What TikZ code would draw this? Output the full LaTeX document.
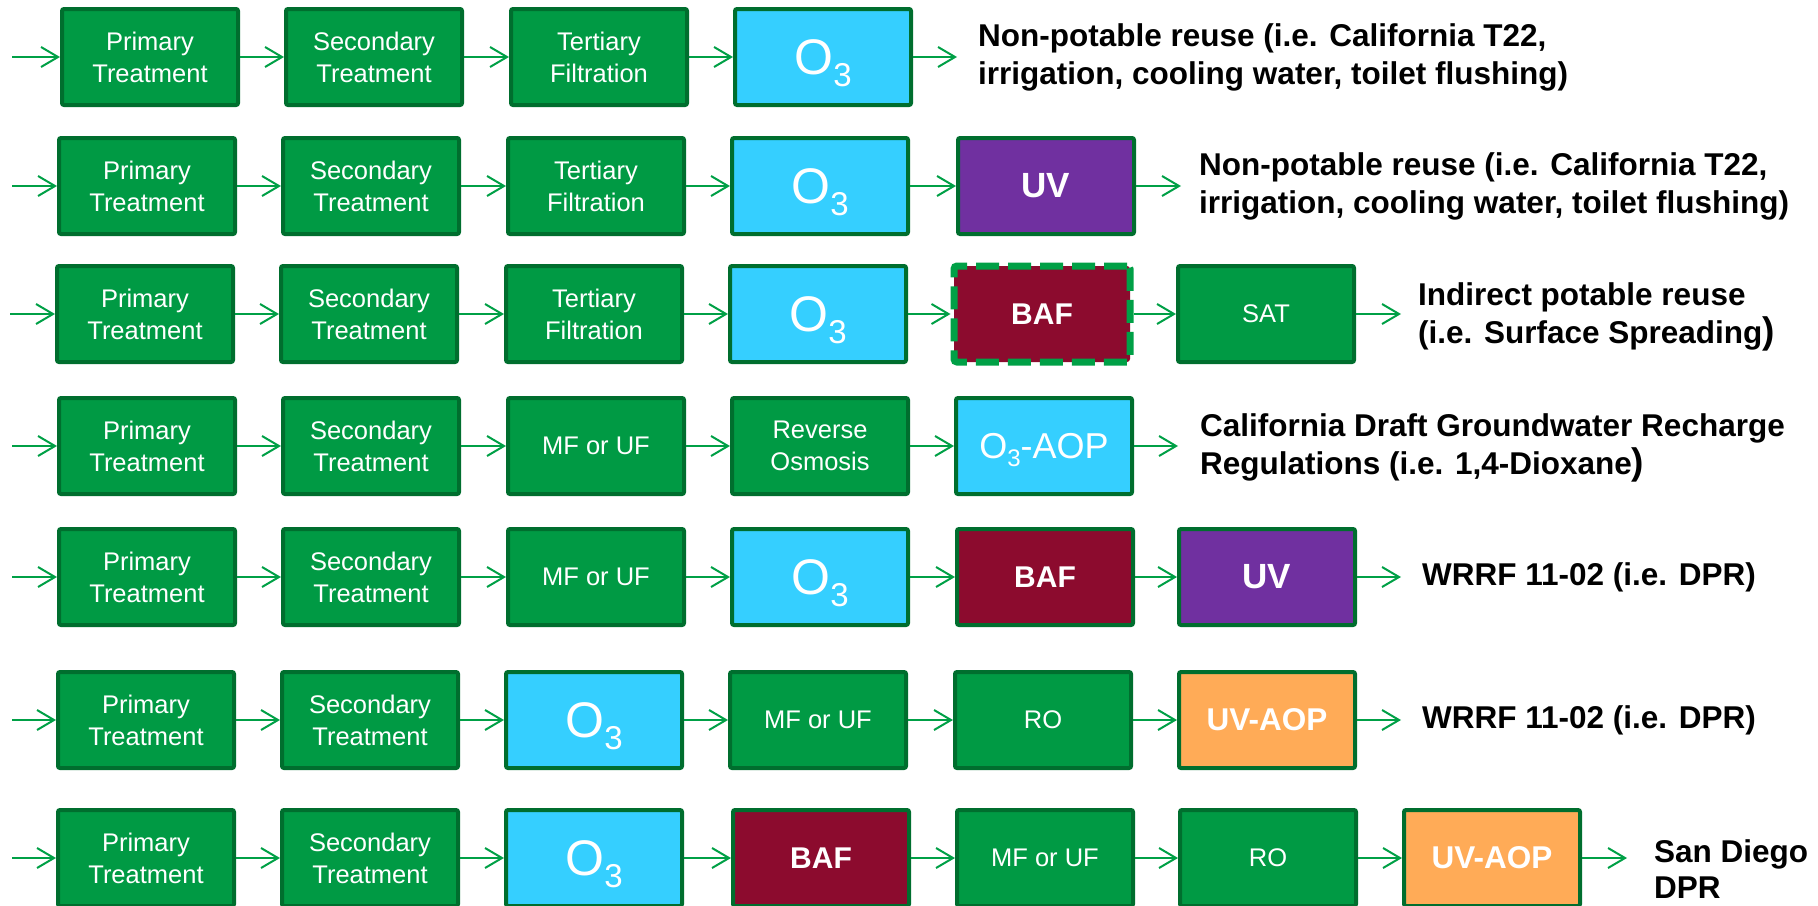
\documentclass[tikz,border=0pt]{standalone}
\usepackage{fontspec}
\setmainfont{Liberation Sans}
\usetikzlibrary{arrows.meta}
\definecolor{fgreen}{HTML}{009A44}
\definecolor{bdgreen}{HTML}{006E2E}
\definecolor{agreen}{HTML}{00A046}
\definecolor{ocyan}{HTML}{35CFFF}
\definecolor{uvpurple}{HTML}{7030A0}
\definecolor{bafred}{HTML}{8C0B2E}
\definecolor{aoporange}{HTML}{FFAB57}
\newcommand\myOzone{O\raisebox{-12pt}[0pt][0pt]{\fontsize{33}{33}\selectfont 3}}
\newcommand\myOzoneAop{O\raisebox{-8pt}[0pt][0pt]{\fontsize{24}{24}\selectfont 3}-AOP}
\newcommand\bigparen{{\fontsize{37}{38}\selectfont )}}
\tikzset{
  box/.style={draw=bdgreen, line width=4pt, rounded corners=2pt,
    minimum width=176pt, minimum height=96pt, inner sep=0pt,
    text=white, align=center, font=\fontsize{25.5}{32}\selectfont},
  gbox/.style={box, fill=fgreen},
  cbox/.style={box, fill=ocyan, font=\fontsize{50}{56}\selectfont},
  abox/.style={box, fill=ocyan, font=\fontsize{36}{40}\selectfont},
  pbox/.style={box, fill=uvpurple, font=\bfseries\fontsize{35}{40}\selectfont},
  mbox/.style={box, fill=bafred, font=\bfseries\fontsize{30}{36}\selectfont},
  dbox/.style={mbox, draw=agreen, line width=7pt, dash pattern=on 23pt off 9pt, rounded corners=3pt},
  obox/.style={box, fill=aoporange, font=\bfseries\fontsize{31.5}{36}\selectfont},
  flow/.style={draw=agreen, line width=2pt, -{Straight Barb[length=17pt,width=20pt]}},
  lab/.style={anchor=west, inner sep=0pt, align=left, text=black,
    font=\bfseries\fontsize{31.5}{38}\selectfont},
}
\begin{document}
\begin{tikzpicture}[x=1pt,y=-1pt]
\useasboundingbox (0,0) rectangle (1818,905);
% ---------- Row 1
\coordinate (r1s) at (12,57);
\node[gbox] (r1a) at (150,57) {Primary\\Treatment};
\node[gbox] (r1b) at (374,57) {Secondary\\Treatment};
\node[gbox] (r1c) at (599,57) {Tertiary\\Filtration};
\node[cbox] (r1d) at (823,57) {\myOzone};
\coordinate (r1e) at (957,57);
\node[lab] (r1l) at (978,57) {Non-potable reuse (i.e. California T22,\\irrigation, cooling water, toilet flushing)};
\draw[flow] (r1s) -- (r1a);
\draw[flow] (r1a) -- (r1b);
\draw[flow] (r1b) -- (r1c);
\draw[flow] (r1c) -- (r1d);
\draw[flow] (r1d) -- (r1e);
% ---------- Row 2
\coordinate (r2s) at (12,186);
\node[gbox] (r2a) at (147,186) {Primary\\Treatment};
\node[gbox] (r2b) at (371,186) {Secondary\\Treatment};
\node[gbox] (r2c) at (596,186) {Tertiary\\Filtration};
\node[cbox] (r2d) at (820,186) {\myOzone};
\node[pbox] (r2e) at (1046,186) {UV};
\coordinate (r2z) at (1181,186);
\node[lab] (r2l) at (1199,186) {Non-potable reuse (i.e. California T22,\\irrigation, cooling water, toilet flushing)};
\draw[flow] (r2s) -- (r2a);
\draw[flow] (r2a) -- (r2b);
\draw[flow] (r2b) -- (r2c);
\draw[flow] (r2c) -- (r2d);
\draw[flow] (r2d) -- (r2e);
\draw[flow] (r2e) -- (r2z);
% ---------- Row 3
\coordinate (r3s) at (10,314);
\node[gbox] (r3a) at (145,314) {Primary\\Treatment};
\node[gbox] (r3b) at (369,314) {Secondary\\Treatment};
\node[gbox] (r3c) at (594,314) {Tertiary\\Filtration};
\node[cbox] (r3d) at (818,314) {\myOzone};
\node[dbox] (r3e) at (1042,314) {BAF};
\node[gbox] (r3f) at (1266,314) {SAT};
\coordinate (r3z) at (1401,314);
\node[lab] (r3l) at (1418,317) {Indirect potable reuse\\(i.e. Surface Spreading\bigparen};
\draw[flow] (r3s) -- (r3a);
\draw[flow] (r3a) -- (r3b);
\draw[flow] (r3b) -- (r3c);
\draw[flow] (r3c) -- (r3d);
\draw[flow] (r3d) -- (r3e);
\draw[flow] (r3e) -- (r3f);
\draw[flow] (r3f) -- (r3z);
% ---------- Row 4
\coordinate (r4s) at (12,446);
\node[gbox] (r4a) at (147,446) {Primary\\Treatment};
\node[gbox] (r4b) at (371,446) {Secondary\\Treatment};
\node[gbox] (r4c) at (596,446) {MF or UF};
\node[gbox] (r4d) at (820,446) {Reverse\\Osmosis};
\node[abox] (r4e) at (1044,446) {\myOzoneAop};
\coordinate (r4z) at (1178,446);
\node[lab] (r4l) at (1200,448) {California Draft Groundwater Recharge\\Regulations (i.e. 1,4-Dioxane\bigparen};
\draw[flow] (r4s) -- (r4a);
\draw[flow] (r4a) -- (r4b);
\draw[flow] (r4b) -- (r4c);
\draw[flow] (r4c) -- (r4d);
\draw[flow] (r4d) -- (r4e);
\draw[flow] (r4e) -- (r4z);
% ---------- Row 5
\coordinate (r5s) at (12,577);
\node[gbox] (r5a) at (147,577) {Primary\\Treatment};
\node[gbox] (r5b) at (371,577) {Secondary\\Treatment};
\node[gbox] (r5c) at (596,577) {MF or UF};
\node[cbox] (r5d) at (820,577) {\myOzone};
\node[mbox] (r5e) at (1045,577) {BAF};
\node[pbox] (r5f) at (1267,577) {UV};
\coordinate (r5z) at (1401,577);
\node[lab] (r5l) at (1422,577) {WRRF 11-02 (i.e. DPR)};
\draw[flow] (r5s) -- (r5a);
\draw[flow] (r5a) -- (r5b);
\draw[flow] (r5b) -- (r5c);
\draw[flow] (r5c) -- (r5d);
\draw[flow] (r5d) -- (r5e);
\draw[flow] (r5e) -- (r5f);
\draw[flow] (r5f) -- (r5z);
% ---------- Row 6
\coordinate (r6s) at (12,720);
\node[gbox] (r6a) at (146,720) {Primary\\Treatment};
\node[gbox] (r6b) at (370,720) {Secondary\\Treatment};
\node[cbox] (r6c) at (594,720) {\myOzone};
\node[gbox] (r6d) at (818,720) {MF or UF};
\node[gbox] (r6e) at (1043,720) {RO};
\node[obox] (r6f) at (1267,720) {UV-AOP};
\coordinate (r6z) at (1401,720);
\node[lab] (r6l) at (1422,720) {WRRF 11-02 (i.e. DPR)};
\draw[flow] (r6s) -- (r6a);
\draw[flow] (r6a) -- (r6b);
\draw[flow] (r6b) -- (r6c);
\draw[flow] (r6c) -- (r6d);
\draw[flow] (r6d) -- (r6e);
\draw[flow] (r6e) -- (r6f);
\draw[flow] (r6f) -- (r6z);
% ---------- Row 7
\coordinate (r7s) at (12,858);
\node[gbox] (r7a) at (146,858) {Primary\\Treatment};
\node[gbox] (r7b) at (370,858) {Secondary\\Treatment};
\node[cbox] (r7c) at (594,858) {\myOzone};
\node[mbox] (r7d) at (821,858) {BAF};
\node[gbox] (r7e) at (1045,858) {MF or UF};
\node[gbox] (r7f) at (1268,858) {RO};
\node[obox] (r7g) at (1492,858) {UV-AOP};
\coordinate (r7z) at (1627,858);
\node[lab, anchor=base west, font=\bfseries\fontsize{31.5}{36}\selectfont] (r7l) at (1654,898) {San Diego\\DPR};
\draw[flow] (r7s) -- (r7a);
\draw[flow] (r7a) -- (r7b);
\draw[flow] (r7b) -- (r7c);
\draw[flow] (r7c) -- (r7d);
\draw[flow] (r7d) -- (r7e);
\draw[flow] (r7e) -- (r7f);
\draw[flow] (r7f) -- (r7g);
\draw[flow] (r7g) -- (r7z);
\end{tikzpicture}
\end{document}
